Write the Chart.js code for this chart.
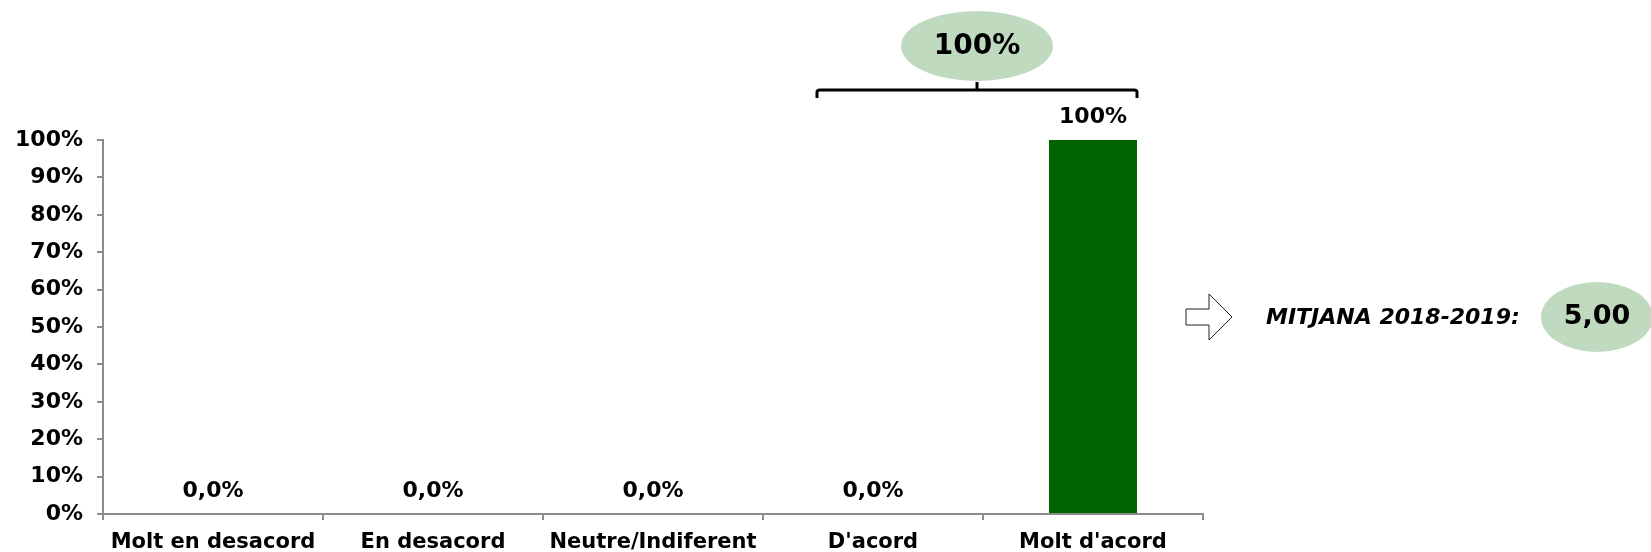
<!DOCTYPE html>
<html>
<head>
<meta charset="utf-8">
<script src="https://cdn.jsdelivr.net/npm/chart.js@4.4.1/dist/chart.umd.min.js"></script>
<style>
  html, body { margin: 0; padding: 0; background: #fff; }
  #wrap { width: 1651px; height: 552px; position: relative; }
</style>
</head>
<body>
<div id="wrap"><canvas id="chart"></canvas></div>
<script>
const categories = ["Molt en desacord", "En desacord", "Neutre/Indiferent", "D'acord", "Molt d'acord"];
const values = [0, 0, 0, 0, 100];
const valueLabels = ["0,0%", "0,0%", "0,0%", "0,0%", "100%"];
const yTicks = [0, 10, 20, 30, 40, 50, 60, 70, 80, 90, 100];
const groupTotal = "100%";
const meanLabel = "MITJANA 2018-2019:";
const meanValue = "5,00";

const FONT = "'DejaVu Sans', Verdana, sans-serif";
const AXIS = "#8c8c8c";
const PALE = "#bfdabe";

// etiquetes, clau i anotacions de la mitjana
const extras = {
  id: "extras",
  afterDatasetsDraw(chart) {
    const ctx = chart.ctx;
    const bars = chart.getDatasetMeta(0).data;
    ctx.save();
    ctx.fillStyle = "#000";
    ctx.textAlign = "center";
    ctx.textBaseline = "middle";
    ctx.font = "bold 22px " + FONT;
    bars.forEach((b, i) => {
      ctx.fillText(valueLabels[i], b.x, b.y - 23);
    });

    // clau sobre D'acord + Molt d'acord
    const left = bars[3].x - bars[3].width / 2 - 12;
    const right = bars[4].x + bars[4].width / 2;
    const mid = (left + right) / 2;
    const by = 90;
    ctx.strokeStyle = "#000";
    ctx.lineWidth = 3;
    ctx.lineJoin = "round";
    ctx.beginPath();
    ctx.moveTo(left, by + 8);
    ctx.lineTo(left, by + 2);
    ctx.quadraticCurveTo(left, by, left + 3, by);
    ctx.lineTo(right - 3, by);
    ctx.quadraticCurveTo(right, by, right, by + 2);
    ctx.lineTo(right, by + 8);
    ctx.moveTo(mid, by);
    ctx.lineTo(mid, by - 8);
    ctx.stroke();

    ctx.fillStyle = PALE;
    ctx.beginPath();
    ctx.ellipse(mid, 46, 76, 35, 0, 0, Math.PI * 2);
    ctx.fill();
    ctx.fillStyle = "#000";
    ctx.font = "bold 28px " + FONT;
    ctx.fillText(groupTotal, mid, 47);

    // fletxa
    const ay = 317;
    ctx.lineWidth = 1;
    ctx.strokeStyle = "#222";
    ctx.fillStyle = "#fff";
    ctx.beginPath();
    ctx.moveTo(1186, ay - 8);
    ctx.lineTo(1209, ay - 8);
    ctx.lineTo(1209, ay - 23);
    ctx.lineTo(1232, ay);
    ctx.lineTo(1209, ay + 23);
    ctx.lineTo(1209, ay + 8);
    ctx.lineTo(1186, ay + 8);
    ctx.closePath();
    ctx.fill();
    ctx.stroke();

    ctx.fillStyle = "#000";
    ctx.textAlign = "left";
    ctx.font = "italic bold 22px " + FONT;
    ctx.fillText(meanLabel, 1266, ay + 1);

    ctx.fillStyle = PALE;
    ctx.beginPath();
    ctx.ellipse(1597, ay, 56, 35, 0, 0, Math.PI * 2);
    ctx.fill();
    ctx.fillStyle = "#000";
    ctx.textAlign = "center";
    ctx.font = "bold 27px " + FONT;
    ctx.fillText(meanValue, 1597, ay);
    ctx.restore();
  }
};

const ctx = document.getElementById("chart").getContext("2d");
new Chart(ctx, {
  type: "bar",
  data: {
    labels: categories,
    datasets: [{
      data: values,
      backgroundColor: "#006400",
      barPercentage: 0.4,
      categoryPercentage: 1.0
    }]
  },
  options: {
    responsive: true,
    maintainAspectRatio: false,
    animation: false,
    layout: { padding: { top: 140, right: 448, left: 0, bottom: 0 } },
    plugins: { legend: { display: false }, tooltip: { enabled: false } },
    scales: {
      x: {
        afterFit: s => { s.height = 38; },
        grid: { drawOnChartArea: false, drawTicks: true, tickLength: 6, color: AXIS, lineWidth: 2 },
        border: { color: AXIS, width: 2 },
        ticks: { color: "#000", font: { family: FONT, size: 21, weight: "bold" }, padding: 10, maxRotation: 0 }
      },
      y: {
        min: 0,
        max: 100,
        afterFit: s => { s.width = 103; },
        afterBuildTicks: s => { s.ticks = yTicks.map(v => ({ value: v })); },
        grid: { drawOnChartArea: false, drawTicks: true, tickLength: 6, color: AXIS, lineWidth: 2 },
        border: { color: AXIS, width: 2 },
        ticks: {
          color: "#000",
          font: { family: FONT, size: 22, weight: "bold" },
          padding: 14,
          callback: v => v + "%"
        }
      }
    }
  },
  plugins: [extras]
});
</script>
</body>
</html>
